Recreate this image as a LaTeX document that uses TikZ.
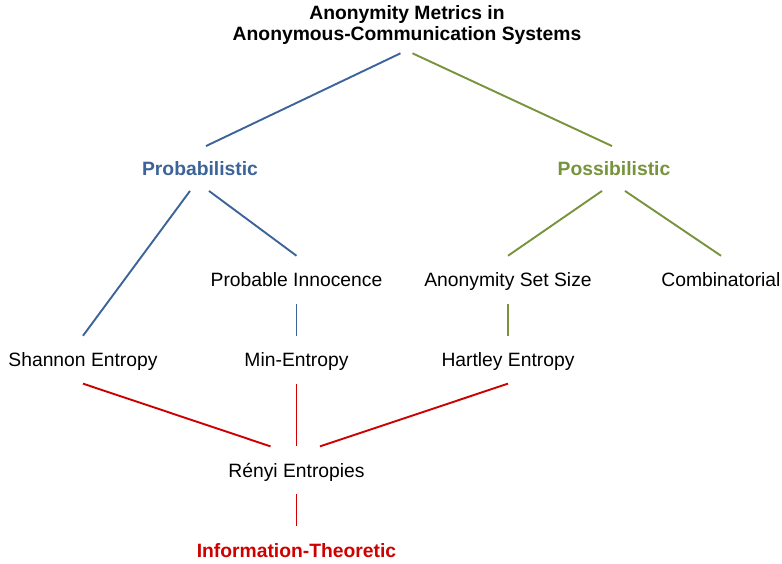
\documentclass[tikz,border=0pt]{standalone}
\usepackage{fontspec}
\setmainfont{Liberation Sans}
\definecolor{probblue}{RGB}{60,100,152}
\definecolor{possgreen}{RGB}{119,147,60}
\definecolor{infored}{RGB}{206,0,0}
\begin{document}
\begin{tikzpicture}[
        x=1pt,y=-1pt,
        line width=1.9pt,
        font=\fontsize{19.3}{21}\selectfont
    ]
    \tikzset{
        metricnode/.style = {rectangle, inner sep=0pt, text height=14pt, text depth=0pt, minimum height=46pt},
        classnode/.style = {metricnode, minimum height=43pt, font=\fontsize{19.3}{21}\selectfont\bfseries},
    }
    \useasboundingbox (0,0) rectangle (782,563);
    \node[align=center, anchor=south, inner sep=0pt, inner ysep=12pt, text depth=0pt, font=\fontsize{19.3}{21}\selectfont\bfseries] (root) at (407,53.3) {Anonymity Metrics in\\Anonymous-Communication Systems};
    \node[classnode, text=probblue] (prob) at (200,168.5) {Probabilistic};
    \node[classnode, text=possgreen] (poss) at (614,168.5) {Possibilistic};
    \node[metricnode] (innocence) at (296.5,279.7) {Probable Innocence};
    \node[metricnode] (anonset) at (508,279.7) {Anonymity Set Size};
    \node[metricnode] (combin) at (721,279.7) {Combinatorial};
    \node[metricnode] (shannon) at (83,359.7) {Shannon Entropy};
    \node[metricnode] (minent) at (296.5,359.7) {Min-Entropy};
    \node[metricnode] (hartley) at (508,359.7) {Hartley Entropy};
    \node[metricnode] (renyi) at (296.5,470.3) {Rényi Entropies};
    \node[classnode, minimum height=46pt, text=infored] (info) at (296.5,550.3) {Information-Theoretic};
    \draw[probblue] ([xshift=-6.5pt]root.south) -- ([xshift=6pt]prob.north);
    \draw[possgreen] ([xshift=5.5pt]root.south) -- ([xshift=-2pt]poss.north);
    \draw[probblue] ([xshift=-10pt]prob.south) -- (shannon.north);
    \draw[probblue] ([xshift=9pt]prob.south) -- (innocence.north);
    \draw[probblue] (innocence.south) -- (minent.north);
    \draw[possgreen] ([xshift=-12pt]poss.south) -- (anonset.north);
    \draw[possgreen] ([xshift=11pt]poss.south) -- (combin.north);
    \draw[possgreen] (anonset.south) -- (hartley.north);
    \draw[infored] (shannon.south) -- ([xshift=-26pt]renyi.north);
    \draw[infored] (minent.south) -- (renyi.north);
    \draw[infored] (hartley.south) -- ([xshift=23.5pt]renyi.north);
    \draw[infored] (renyi.south) -- (info.north);
\end{tikzpicture}
\end{document}
